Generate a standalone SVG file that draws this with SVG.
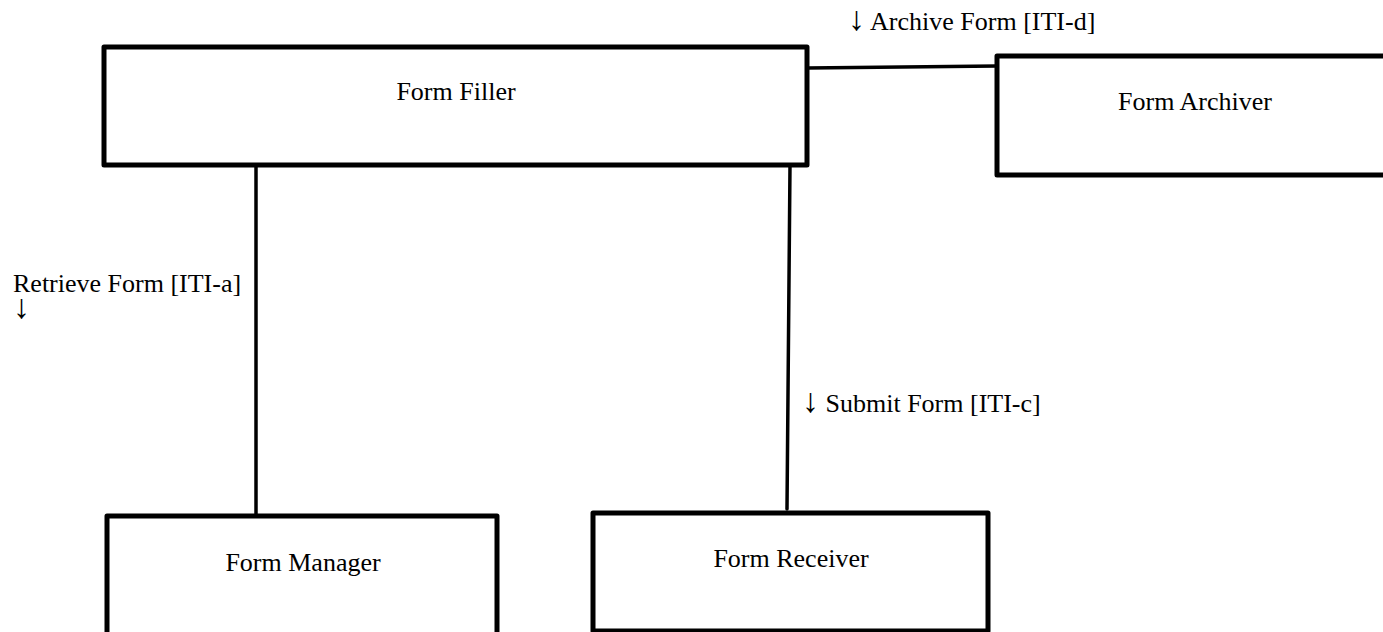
<svg xmlns="http://www.w3.org/2000/svg" width="1383" height="632" viewBox="0 0 1383 632">
  <style>
    .box { fill: #ffffff; stroke: #000000; stroke-width: 5; stroke-linejoin: round; }
    .link { fill: none; stroke: #000000; stroke-width: 3.5; stroke-linecap: round; }
    .label { font-family: "Liberation Serif", "Times New Roman", serif; font-size: 26px; fill: #000000; }
    .arrow { font-size: 34px; }
    .title { font-family: "Liberation Serif", "Times New Roman", serif; font-size: 26px; fill: #000000; text-anchor: middle; }
  </style>
  <rect width="1383" height="632" fill="#ffffff"/>

  <!-- connectors between the actors -->
  <g id="connectors">
    <line class="link" x1="807" y1="68" x2="997" y2="66"/>
    <line class="link" x1="256" y1="165" x2="256" y2="515"/>
    <line class="link" x1="790" y1="165" x2="787" y2="509"/>
  </g>

  <!-- transaction labels -->
  <g id="labels">
    <text class="label" x="848" y="30"><tspan class="arrow">↓</tspan> Archive Form [ITI-d]</text>
    <text class="label" x="13" y="292">Retrieve Form [ITI-a]<tspan class="arrow" x="13" y="318">↓</tspan></text>
    <text class="label" x="802" y="412"><tspan class="arrow">↓</tspan> Submit Form [ITI-c]</text>
  </g>

  <g id="form-filler">
    <rect class="box" x="104" y="47" width="703" height="118"/>
    <text class="title" x="456" y="100">Form Filler</text>
  </g>

  <g id="form-archiver">
    <rect class="box" x="997" y="56" width="400" height="119"/>
    <text class="title" x="1195" y="110">Form Archiver</text>
  </g>

  <g id="form-manager">
    <rect class="box" x="107" y="516" width="390" height="130"/>
    <text class="title" x="303" y="571">Form Manager</text>
  </g>

  <g id="form-receiver">
    <rect class="box" x="593" y="513" width="395" height="118"/>
    <text class="title" x="791" y="567">Form Receiver</text>
  </g>
</svg>
